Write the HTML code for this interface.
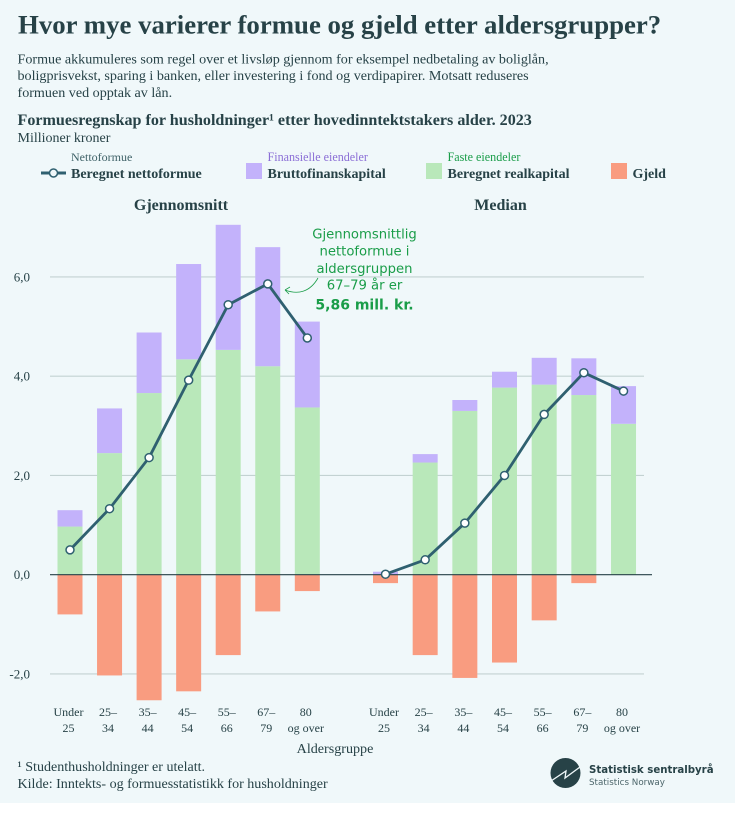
<!DOCTYPE html>
<html lang="no">
<head>
<meta charset="utf-8">
<title>Formue og gjeld etter aldersgrupper</title>
<style>
html,body{margin:0;padding:0;background:#fff;}
svg{display:block;font-family:"Liberation Serif",serif;}
</style>
</head>
<body>
<svg id="chart" width="735" height="813" viewBox="0 0 735 813" xmlns="http://www.w3.org/2000/svg">
<rect x="0" y="0" width="735" height="803" fill="#f0f8fa"/>
<text x="18" y="33.5" font-size="26.8" font-weight="700" fill="#274247">Hvor mye varierer formue og gjeld etter aldersgrupper?</text>
<g font-size="14.1" fill="#274247">
<text x="17.5" y="63.5">Formue akkumuleres som regel over et livsløp gjennom for eksempel nedbetaling av boliglån,</text>
<text x="17.5" y="80">boligprisvekst, sparing i banken, eller investering i fond og verdipapirer. Motsatt reduseres</text>
<text x="17.5" y="97">formuen ved opptak av lån.</text>
</g>
<text x="17.5" y="125" font-size="16.1" font-weight="700" fill="#274247">Formuesregnskap for husholdninger¹ etter hovedinntektstakers alder. 2023</text>
<text x="17.5" y="142" font-size="14" fill="#274247">Millioner kroner</text>

<g>
<g>
<text x="71" y="161" font-size="12" fill="#3f6268">Nettoformue</text>
<line x1="41" x2="66" y1="173" y2="173" stroke="#2f6070" stroke-width="3"/>
<circle cx="53.5" cy="173" r="4" fill="#f0f8fa" stroke="#2f6070" stroke-width="1.5"/>
<text x="71" y="178" font-size="14" font-weight="700" fill="#274247">Beregnet nettoformue</text>
</g>
<g>
<text x="267.5" y="161" font-size="12.1" fill="#8b6fd6">Finansielle eiendeler</text>
<rect x="246" y="163" width="16" height="16" fill="#c3b2fb"/>
<text x="267.5" y="178" font-size="14" font-weight="700" fill="#274247">Bruttofinanskapital</text>
</g>
<g>
<text x="447.5" y="161" font-size="12.1" fill="#1a9d49">Faste eiendeler</text>
<rect x="426" y="163" width="16" height="16" fill="#b9e8ba"/>
<text x="447.5" y="178" font-size="14" font-weight="700" fill="#274247">Beregnet realkapital</text>
</g>
<g>
<rect x="611" y="163" width="16" height="16" fill="#f99c80"/>
<text x="632.5" y="178" font-size="14" font-weight="700" fill="#274247">Gjeld</text>
</g>
</g>

<text x="181" y="210" text-anchor="middle" font-size="16" font-weight="700" fill="#274247">Gjennomsnitt</text>
<text x="500.5" y="210" text-anchor="middle" font-size="16" font-weight="700" fill="#274247">Median</text>

<g id="grid"></g>
<g id="marks"></g>
<g id="axis"></g>

<g font-family="'DejaVu Sans',sans-serif" fill="#1a9d49" text-anchor="middle" font-size="13.2">
<text x="364.5" y="238.5">Gjennomsnittlig</text>
<text x="364.5" y="255.5">nettoformue i</text>
<text x="364.5" y="273">aldersgruppen</text>
<text x="364.5" y="289.5">67–79 år er</text>
<text x="364.5" y="309.5" font-size="14" font-weight="700">5,86 mill. kr.</text>
<path d="M318 278 C310 292 298 295 285 290 M285 290 L290 287 M285 290 L289 294" fill="none" stroke="#1a9d49" stroke-width="0.8"/>
</g>

<text x="335" y="753" text-anchor="middle" font-size="14.1" fill="#274247">Aldersgruppe</text>
<text x="17.5" y="771" font-size="14.05" fill="#274247">¹ Studenthusholdninger er utelatt.</text>
<text x="17.5" y="788" font-size="14.05" fill="#274247">Kilde: Inntekts- og formuesstatistikk for husholdninger</text>

<g>
<circle cx="565.5" cy="773" r="15" fill="#274247"/>
<path d="M551 781 L566 771 L565 778 L580 767" fill="none" stroke="#f0f8fa" stroke-width="1.3"/>
<text x="589" y="773" font-family="'DejaVu Sans',sans-serif" font-size="10.2" font-weight="700" fill="#274247">Statistisk sentralbyrå</text>
<text x="589" y="785" font-family="'DejaVu Sans',sans-serif" font-size="8.75" fill="#4d666b">Statistics Norway</text>
</g>
</svg>
<script>
const categoryTop = ['Under','25–','35–','45–','55–','67–','80'];
const categoryBottom = ['25','34','44','54','66','79','og over'];
const yTicks = [-2, 0, 2, 4, 6];
const yTickLabels = ['-2,0','0,0','2,0','4,0','6,0'];

const meanReal = [0.97, 2.45, 3.66, 4.34, 4.53, 4.20, 3.37];
const meanFinancial = [0.33, 0.90, 1.22, 1.92, 2.52, 2.40, 1.73];
const meanDebt = [-0.80, -2.03, -2.53, -2.35, -1.62, -0.74, -0.33];
const meanNet = [0.50, 1.33, 2.36, 3.92, 5.44, 5.86, 4.77];

const medianReal = [0, 2.26, 3.30, 3.77, 3.83, 3.62, 3.04];
const medianFinancial = [0.06, 0.17, 0.22, 0.32, 0.54, 0.74, 0.76];
const medianDebt = [-0.17, -1.62, -2.08, -1.77, -0.92, -0.17, 0];
const medianNet = [0.01, 0.30, 1.04, 2.00, 3.23, 4.07, 3.70];

const NS = 'http://www.w3.org/2000/svg';
const yScale = v => 574.7 - v * 49.63;
const xMean = i => 70 + i * 39.55;
const xMedian = i => 385.5 + i * 39.67;
const BAR_W = 25;

function make(tag, attrs, parent) {
  const el = document.createElementNS(NS, tag);
  for (const k in attrs) el.setAttribute(k, attrs[k]);
  parent.appendChild(el);
  return el;
}

const grid = document.getElementById('grid');
const marks = document.getElementById('marks');
const axis = document.getElementById('axis');

yTicks.forEach((t, i) => {
  if (t !== 0) {
    const g = make('line', {x1: 50, x2: 644, y1: yScale(t), y2: yScale(t), stroke: '#c3d2d2', 'stroke-width': 1.2}, grid);
    
    
  }
  const lab = make('text', {x: 30, y: yScale(t) + 4.5, 'text-anchor': 'end', 'font-size': 13, fill: '#274247'}, axis);
  lab.textContent = yTickLabels[i];
  
  
});

function drawPanel(xf, real, fin, debt) {
  real.forEach((v, i) => {
    const x = xf(i) - BAR_W / 2;
    if (v > 0) {
      const r = make('rect', {x: x, y: yScale(v), width: BAR_W, height: yScale(0) - yScale(v), fill: '#b9e8ba'}, marks);
      
      
    }
    const f = make('rect', {x: x, y: yScale(v + fin[i]), width: BAR_W, height: yScale(v) - yScale(v + fin[i]), fill: '#c3b2fb'}, marks);
    
    
    if (debt[i] < 0) {
      const d = make('rect', {x: x, y: yScale(0), width: BAR_W, height: yScale(debt[i]) - yScale(0), fill: '#f99c80'}, marks);
      
      
    }
  });
}

function drawLine(xf, net) {
  const pl = make('polyline', {points: net.map((v, i) => xf(i) + ',' + yScale(v)).join(' '), fill: 'none', stroke: '#2f6070', 'stroke-width': 2.8, 'stroke-linejoin': 'round'}, marks);
  
  
  net.forEach((v, i) => {
    const c = make('circle', {cx: xf(i), cy: yScale(v), r: 4, fill: '#fff', stroke: '#2f6070', 'stroke-width': 1.5}, marks);
    
    
  });
}

function drawCats(xf) {
  categoryTop.forEach((c, i) => {
    const a = make('text', {x: xf(i) - 1.5, y: 716, 'text-anchor': 'middle', 'font-size': 12, fill: '#274247'}, axis);
    a.textContent = c;
    
    
    const b = make('text', {x: xf(i) - 1.5, y: 732, 'text-anchor': 'middle', 'font-size': 12, fill: '#274247'}, axis);
    b.textContent = categoryBottom[i];
    
    
  });
}

drawPanel(xMean, meanReal, meanFinancial, meanDebt);
drawPanel(xMedian, medianReal, medianFinancial, medianDebt);

const zero = make('line', {x1: 50, x2: 652, y1: yScale(0), y2: yScale(0), stroke: '#274247', 'stroke-width': 1.2}, marks);



drawLine(xMean, meanNet);
drawLine(xMedian, medianNet);
drawCats(xMean);
drawCats(xMedian);
</script>
</body>
</html>
